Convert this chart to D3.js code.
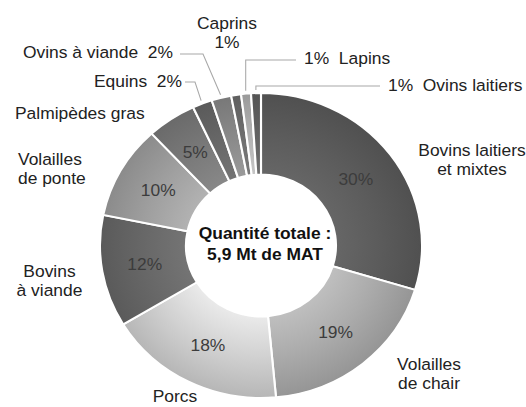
<!DOCTYPE html>
<html>
<head>
<meta charset="utf-8">
<script src="https://cdn.jsdelivr.net/npm/d3@7"></script>
<style>
  html, body { margin: 0; padding: 0; background: #fff; overflow: hidden; }
  text { font-family: Arial, "Liberation Sans", sans-serif; white-space: pre; }
</style>
</head>
<body>
<svg id="chart"></svg>
<script>
// data, clockwise from 12 o'clock
const categories = ["Bovins laitiers\net mixtes", "Volailles\nde chair", "Porcs", "Bovins\nà viande",
    "Volailles\nde ponte", "Palmipèdes gras", "Equins", "Ovins à viande", "Caprins", "Lapins", "Ovins laitiers"];
const values = [30, 19, 18, 12, 10, 5, 2, 2, 1, 1, 1];
const shades = ["#5c5c5c", "#acacac", "#d2d2d2", "#686868", "#a0a0a0", "#7a7a7a",
    "#686868", "#8a8a8a", "#6e6e6e", "#b2b2b2", "#626262"];
const centerLines = ["Quantité totale :", "5,9 Mt de MAT"];

// outside label placement, in screen pixels (baseline of first line)
// fmt: how the percent is attached for the thin slices
const labelLayout = [
    { x: 472, y: 156, anchor: "middle" },
    { x: 429, y: 370, anchor: "middle" },
    { x: 175, y: 402, anchor: "middle" },
    { x: 49.5, y: 277, anchor: "middle" },
    { x: 18, y: 165, anchor: "start" },
    { x: 15, y: 119.5, anchor: "start" },
    { x: 182, y: 87, anchor: "end", fmt: "after", line: [185, 82], elbow: 195 },
    { x: 173, y: 58, anchor: "end", fmt: "after", line: [180, 54], elbow: 203 },
    { x: 227, y: 29, anchor: "middle", fmt: "below" },
    { x: 304, y: 64, anchor: "start", fmt: "before", line: [296, 60] },
    { x: 388, y: 91, anchor: "start", fmt: "before", line: [380, 86] }
];

const W = 526, H = 407;
const K = 1.056;            // the picture is stretched a bit sideways
const px = x => x / K;      // screen x -> viewBox x
const fontSize = 16.5;
const lineGap = 19;

const svg = d3.select("#chart")
    .attr("width", W)
    .attr("height", H)
    .attr("viewBox", `0 0 ${W / K} ${H}`)
    .attr("preserveAspectRatio", "none");

const cx = px(261), cy = 245.5;
const rOut = 152.5, rIn = 71;

const pie = d3.pie().sort(null).value(d => d)(values);
const arc = d3.arc().innerRadius(rIn).outerRadius(rOut);
const tip = d3.arc().innerRadius(rOut + 3).outerRadius(rOut + 3);

// gradient per slice: lighter toward the hole, darker at the rim
const defs = svg.append("defs");
shades.forEach((c, i) => {
    const g = defs.append("radialGradient")
        .attr("id", "g" + i)
        .attr("gradientUnits", "userSpaceOnUse")
        .attr("cx", 0).attr("cy", 0).attr("r", rOut);
    g.append("stop").attr("offset", rIn / rOut).attr("stop-color", d3.color(c).brighter(0.3));
    g.append("stop").attr("offset", 0.72).attr("stop-color", c);
    g.append("stop").attr("offset", 1).attr("stop-color", d3.color(c).darker(0.4));
});

const ring = svg.append("g").attr("transform", `translate(${cx},${cy})`);

ring.selectAll("path")
    .data(pie)
    .join("path")
    .attr("d", arc)
    .attr("fill", (d, i) => `url(#g${i})`)
    .attr("stroke", "#fff")
    .attr("stroke-width", 2);

// percents inside the wide slices
ring.selectAll("text.pct")
    .data(pie.filter(d => d.value >= 5))
    .join("text")
    .attr("class", "pct")
    .attr("x", d => arc.centroid(d)[0])
    .attr("y", d => arc.centroid(d)[1])
    .attr("dy", "0.35em")
    .attr("text-anchor", "middle")
    .attr("font-size", fontSize)
    .attr("fill", "#3c3c3c")
    .text(d => d.value + "%");

// leader lines for the thin slices
const leaders = svg.append("g")
    .attr("fill", "none")
    .attr("stroke", "#a8a8a8")
    .attr("stroke-width", 1);

labelLayout.forEach((L, i) => {
    if (!L.line) return;
    const [tx, ty] = tip.centroid(pie[i]);
    const end = [cx + tx, cy + ty];
    const startX = px(L.line[0]), y0 = L.line[1];
    const elbowX = L.elbow ? px(L.elbow) : end[0];
    leaders.append("polyline")
        .attr("points", [[startX, y0], [elbowX, y0], end].map(p => p.join(",")).join(" "));
});

// outside labels
const labels = svg.append("g")
    .attr("font-size", fontSize)
    .attr("fill", "#222");

labelLayout.forEach((L, i) => {
    const name = categories[i];
    const pct = values[i] + "%";
    let lines;
    if (L.fmt === "after") lines = [name + "  " + pct];
    else if (L.fmt === "before") lines = [pct + "  " + name];
    else if (L.fmt === "below") lines = [name, pct];
    else lines = name.split("\n");
    const t = labels.append("text")
        .attr("text-anchor", L.anchor)
        .attr("x", px(L.x))
        .attr("y", L.y);
    lines.forEach((s, k) => {
        t.append("tspan")
            .attr("x", px(L.x))
            .attr("y", L.y + k * lineGap)
            .text(s);
    });
});

// total in the hole
svg.append("text")
    .attr("text-anchor", "middle")
    .attr("font-size", fontSize)
    .attr("font-weight", "bold")
    .attr("fill", "#111")
    .selectAll("tspan")
    .data(centerLines)
    .join("tspan")
    .attr("x", px(265))
    .attr("y", (d, k) => 239 + k * 21)
    .text(d => d);
</script>
</body>
</html>
